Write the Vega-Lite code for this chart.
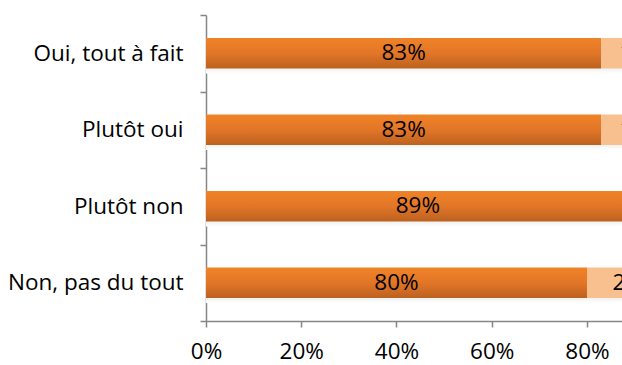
{
  "$schema": "https://vega.github.io/schema/vega-lite/v6.json",
  "autosize": "none",
  "width": 416,
  "height": 306,
  "padding": {"left": 206, "top": 15, "right": 0, "bottom": 44},
  "background": "white",
  "config": {"view": {"stroke": null}, "font": "Open Sans"},
  "data": {"values": [
    {"cat": "Oui, tout à fait", "series": "A", "order": 1, "value": 0.83},
    {"cat": "Oui, tout à fait", "series": "B", "order": 2, "value": 0.17},
    {"cat": "Plutôt oui", "series": "A", "order": 1, "value": 0.83},
    {"cat": "Plutôt oui", "series": "B", "order": 2, "value": 0.17},
    {"cat": "Plutôt non", "series": "A", "order": 1, "value": 0.89},
    {"cat": "Plutôt non", "series": "B", "order": 2, "value": 0.11},
    {"cat": "Non, pas du tout", "series": "A", "order": 1, "value": 0.80},
    {"cat": "Non, pas du tout", "series": "B", "order": 2, "value": 0.20}
  ]},
  "transform": [
    {"stack": "value", "groupby": ["cat"], "sort": [{"field": "order"}], "as": ["v0", "v1"]},
    {"calculate": "(datum.v0 + datum.v1) / 2", "as": "mid"}
  ],
  "encoding": {
    "y": {
      "field": "cat", "type": "nominal",
      "sort": ["Oui, tout à fait", "Plutôt oui", "Plutôt non", "Non, pas du tout"],
      "scale": {"paddingInner": 0, "paddingOuter": 0},
      "axis": {
        "title": null, "tickBand": "extent", "domainColor": "#868686", "tickColor": "#868686",
        "tickSize": 6, "labelFontSize": 22.5, "labelColor": "#000", "labelPadding": 17,
        "labelFont": "Open Sans", "domainWidth": 1.5, "tickWidth": 1.5
      }
    }
  },
  "layer": [
    {
      "transform": [{"filter": "datum.series === 'A'"}],
      "mark": {"type": "bar", "clip": true, "yOffset": 5, "height": {"band": 0.4}, "color": {"gradient": "linear", "x1": 0, "y1": 0, "x2": 0, "y2": 1,
        "stops": [{"offset": 0, "color": "#d0d0d0"}, {"offset": 0.7, "color": "#e6e6e6"}, {"offset": 1, "color": "#ffffff"}]}},
      "encoding": {
        "x": {"field": "v0", "type": "quantitative", "scale": {"domain": [0, 0.8735], "nice": false, "zero": true},
          "axis": {"title": null, "format": "%", "values": [0, 0.2, 0.4, 0.6, 0.8], "grid": false,
            "domainColor": "#868686", "tickColor": "#868686", "tickSize": 6, "labelFontSize": 22.5,
            "labelColor": "#000", "labelPadding": 13, "labelFont": "Open Sans", "domainWidth": 1.5, "tickWidth": 1.5,
            "labelFlush": false}},
        "x2": {"datum": 1}
      }
    },
    {
      "transform": [{"filter": "datum.series === 'A'"}],
      "mark": {"type": "bar", "clip": true, "height": {"band": 0.4}, "color": {"gradient": "linear", "x1": 0, "y1": 0, "x2": 0, "y2": 1,
        "stops": [{"offset": 0, "color": "#F08326"}, {"offset": 0.5, "color": "#E27628"}, {"offset": 1, "color": "#BC611F"}]}},
      "encoding": {
        "x": {"field": "v0", "type": "quantitative"},
        "x2": {"field": "v1"}
      }
    },
    {
      "transform": [{"filter": "datum.series === 'B'"}],
      "mark": {"type": "bar", "clip": true, "height": {"band": 0.4}, "color": "#F9C08F"},
      "encoding": {
        "x": {"field": "v0", "type": "quantitative"},
        "x2": {"field": "v1"}
      }
    },
    {
      "mark": {"type": "text", "clip": true, "fontSize": 22.5, "color": "#000", "font": "Open Sans", "baseline": "middle"},
      "encoding": {
        "x": {"field": "mid", "type": "quantitative"},
        "text": {"field": "value", "type": "quantitative", "format": ".0%"}
      }
    }
  ]
}
